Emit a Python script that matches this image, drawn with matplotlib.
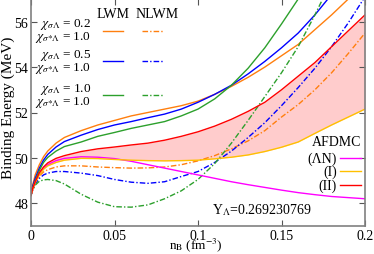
import matplotlib

matplotlib.use("Agg")
import matplotlib.pyplot as plt

plt.rcParams["font.family"] = ["Liberation Serif", "DejaVu Serif"]
plt.rcParams["mathtext.fontset"] = "stix"
plt.rcParams["font.size"] = 10

# baryon density (fm^-3)
n_b = [0, 0.001, 0.0025, 0.005, 0.0075, 0.01, 0.015, 0.02, 0.03, 0.04, 0.05, 0.06,
       0.07, 0.08, 0.09, 0.1, 0.11, 0.12, 0.13, 0.14, 0.15, 0.16, 0.17, 0.18, 0.19, 0.2]

# LWM (solid)
lwm_02 = [48.35, 48.8, 49.25, 49.7, 50.05, 50.3, 50.65, 50.9, 51.2, 51.45, 51.65, 51.85,
          52.0, 52.15, 52.3, 52.5, 52.8, 53.15, 53.55, 54.0, 54.5, 55.0, 55.65, 56.3, 57.0, 57.7]
lwm_05 = [48.35, 48.75, 49.1, 49.55, 49.9, 50.15, 50.48, 50.72, 51.0, 51.25, 51.45, 51.6,
          51.77, 51.93, 52.15, 52.45, 52.8, 53.2, 53.7, 54.25, 54.85, 55.5, 56.3, 57.2, 58.2, 59.3]
lwm_10 = [48.35, 48.7, 49.0, 49.45, 49.8, 50.02, 50.3, 50.5, 50.7, 50.95, 51.12, 51.3,
          51.45, 51.6, 51.85, 52.15, 52.6, 53.2, 53.95, 54.85, 55.9, 57.0, 58.3, 59.7, 61.2, 62.8]

# NLWM (dash-dot)
nlwm_02 = [48.35, 48.6, 48.9, 49.2, 49.38, 49.48, 49.6, 49.65, 49.65, 49.6, 49.57, 49.55,
           49.56, 49.6, 49.7, 49.87, 50.1, 50.4, 50.75, 51.2, 51.8, 52.35, 53.0, 53.75, 54.6, 55.5]
nlwm_05 = [48.35, 48.58, 48.85, 49.1, 49.25, 49.33, 49.4, 49.4, 49.33, 49.22, 49.05, 48.93,
           48.88, 48.95, 49.18, 49.4, 49.8, 50.3, 50.9, 51.55, 52.3, 53.1, 53.95, 54.9, 55.95, 57.1]
nlwm_10 = [48.35, 48.58, 48.8, 48.97, 49.03, 49.05, 49.0, 48.85, 48.4, 48.05, 47.85, 47.83,
           47.93, 48.2, 48.55, 49.05, 49.75, 50.65, 51.65, 52.7, 53.75, 54.9, 56.3, 57.8, 59.4, 61.0]

# AFDMC
afdmc_ln = [48.35, 48.62, 48.93, 49.3, 49.55, 49.7, 49.88, 49.98, 50.05, 50.03, 49.97, 49.85,
            49.7, 49.55, 49.4, 49.25, 49.1, 48.95, 48.82, 48.7, 48.58, 48.47, 48.38, 48.3, 48.25, 48.2]
afdmc_1 = [48.35, 48.6, 48.9, 49.25, 49.5, 49.65, 49.8, 49.9, 49.98, 49.97, 49.93, 49.9,
           49.88, 49.87, 49.88, 49.9, 49.96, 50.03, 50.13, 50.28, 50.47, 50.7, 51.08, 51.45, 51.8, 52.15]
afdmc_2 = [48.35, 48.65, 48.95, 49.35, 49.6, 49.78, 49.98, 50.1, 50.28, 50.4, 50.48, 50.57,
           50.65, 50.78, 50.95, 51.15, 51.4, 51.7, 52.05, 52.45, 53.0, 53.6, 54.2, 54.9, 55.6, 56.3]

chi_labels = [r"$\chi_{\sigma\Lambda}$ = 0.2", r"$\chi_{\sigma\Lambda}$ = 0.5", r"$\chi_{\sigma\Lambda}$ = 1.0"]
chi_star_label = r"$\chi_{\sigma{*}\Lambda}$ = 1.0"
colors = ["#ff7f0e", "#0000ff", "#2ca02c"]
dashdot = (0, (4, 1.5, 1, 1.5))

fig = plt.figure(figsize=(3.74, 2.55), dpi=100)
ax = fig.add_axes([31 / 374, 28 / 255, 334 / 374, 227 / 255])

ax.fill_between(n_b, afdmc_1, afdmc_2, color="#ffcccc", lw=0)
for y, c in zip([lwm_02, lwm_05, lwm_10], colors):
    ax.plot(n_b, y, color=c, lw=1.0)
for y, c in zip([nlwm_02, nlwm_05, nlwm_10], colors):
    ax.plot(n_b, y, color=c, lw=1.0, linestyle=dashdot)
ax.plot(n_b, afdmc_ln, color="#ff00ff", lw=1.0)
ax.plot(n_b, afdmc_1, color="#ffc000", lw=1.0)
ax.plot(n_b, afdmc_2, color="#ff0000", lw=1.0)

ax.set_xlim(0, 0.2)
ax.set_ylim(47, 57)
ax.set_xticks([0, 0.05, 0.1, 0.15, 0.2])
ax.set_xticklabels(["0", "0.05", "0.1", "0.15", "0.2"])
ax.set_yticks([48, 50, 52, 54, 56])
ax.tick_params(direction="in", top=True, right=True, length=4, width=0.8,
               color="#555555", pad=2, labelsize=10)
for s in ax.spines.values():
    s.set_color("#808080")
    s.set_linewidth(1.2)


def fx(px):
    return (px - 31) / 334


def fy(py):
    return (227 - py) / 227


ax.set_xlabel(r"n$_\mathrm{B}$ (fm$^{-3}$)", fontsize=9.5)
ax.xaxis.set_label_coords(fx(196), fy(254))
ax.xaxis.label.set_va("bottom")
ax.set_ylabel("Binding Energy (MeV)", fontsize=11)
ax.yaxis.set_label_coords(fx(8), fy(108))
ax.yaxis.label.set_va("center")

# LWM / NLWM key
tr = ax.transAxes
ax.text(fx(113), fy(15), "LWM", transform=tr, ha="center", va="center")
ax.text(fx(157), fy(15), "NLWM", transform=tr, ha="center", va="center")
for i, (lab, c) in enumerate(zip(chi_labels, colors)):
    yl = [31.5, 62, 96][i]
    ax.text(fx(91), fy(yl - 6.5), lab, transform=tr, ha="right", va="center", fontsize=9.5)
    ax.text(fx(91), fy(yl + 6), chi_star_label, transform=tr, ha="right", va="center",
            fontsize=9.5)
    ax.plot([fx(103), fx(123)], [fy(yl)] * 2, transform=tr, color=c, lw=1.0)
    ax.plot([fx(142), fx(163)], [fy(yl)] * 2, transform=tr, color=c, lw=1.0,
            linestyle=dashdot)

# AFDMC key
ax.text(fx(361), fy(143), "AFDMC", transform=tr, ha="right", va="center")
for lab, c, yl in [("(ΛN)", "#ff00ff", 159), ("(I)", "#ffc000", 172),
                   ("(II)", "#ff0000", 186)]:
    ax.text(fx(337), fy(yl), lab, transform=tr, ha="right", va="center")
    ax.plot([fx(340), fx(361)], [fy(yl)] * 2, transform=tr, color=c, lw=1.0)

ax.text(fx(212), fy(210), r"Y$_\Lambda$=0.269230769", transform=tr,
        ha="left", va="center")

fig.savefig("out.png", dpi=100)
